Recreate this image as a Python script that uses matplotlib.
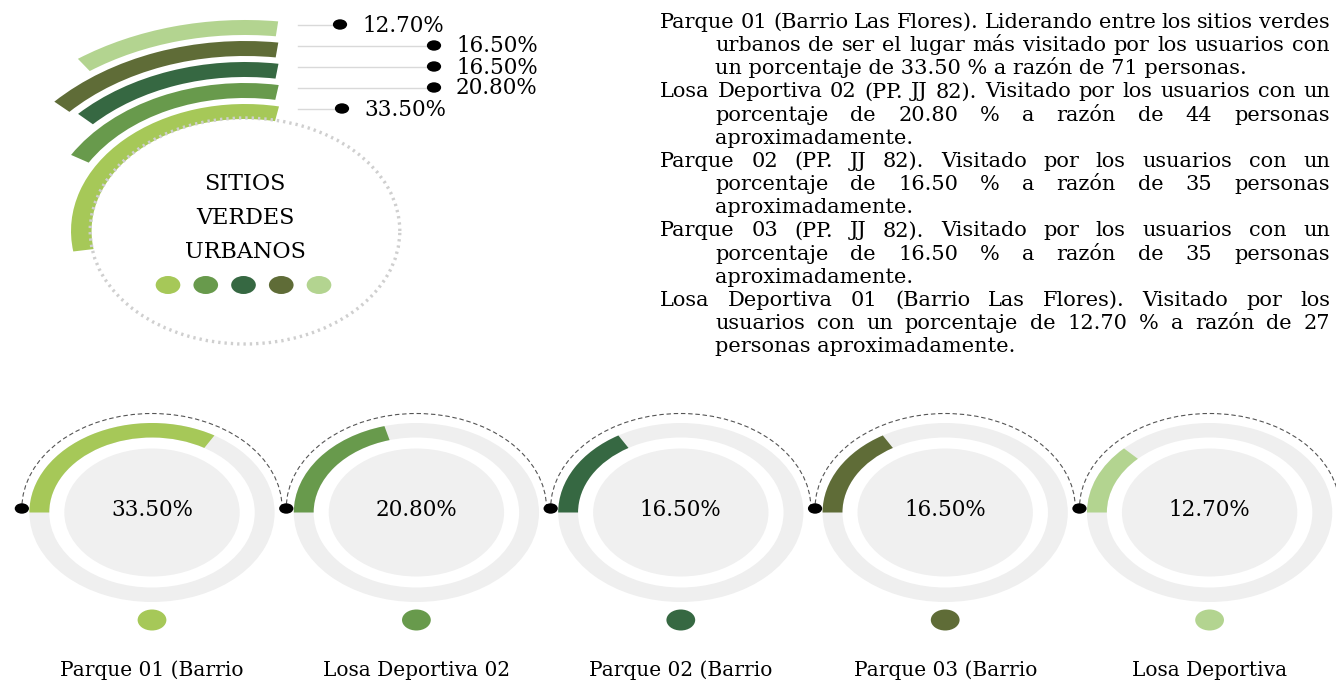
import numpy as np
import matplotlib
matplotlib.use("Agg")
import matplotlib.pyplot as plt
from matplotlib.patches import Wedge, Ellipse, Arc
from matplotlib.transforms import Affine2D

# data
sites = ["Parque 01 (Barrio", "Losa Deportiva 02", "Parque 02 (Barrio",
         "Parque 03 (Barrio", "Losa Deportiva"]
shares = [33.50, 20.80, 16.50, 16.50, 12.70]
colors = ["#a6c858", "#689a4c", "#366842", "#5f6c37", "#b3d490"]
pct_labels = [f"{v:.2f}%" for v in shares]
title_words = ["SITIOS", "VERDES", "URBANOS"]

paragraphs = [
    ["Parque 01 (Barrio Las Flores). Liderando entre los sitios verdes",
     "urbanos de ser el lugar más visitado por los usuarios con",
     "un porcentaje de 33.50 % a razón de 71 personas."],
    ["Losa Deportiva 02 (PP. JJ 82). Visitado por los usuarios con un",
     "porcentaje de 20.80 % a razón de 44 personas",
     "aproximadamente."],
    ["Parque 02 (PP. JJ 82). Visitado por los usuarios con un",
     "porcentaje de 16.50 % a razón de 35 personas",
     "aproximadamente."],
    ["Parque 03 (PP. JJ 82). Visitado por los usuarios con un",
     "porcentaje de 16.50 % a razón de 35 personas",
     "aproximadamente."],
    ["Losa Deportiva 01 (Barrio Las Flores). Visitado por los",
     "usuarios con un porcentaje de 12.70 % a razón de 27",
     "personas aproximadamente."],
]

W, H = 1336, 681
S = 1.37  # the source picture is stretched sideways
SERIF = "DejaVu Serif"
RING_GRAY = "#efefef"

fig = plt.figure(figsize=(W / 100, H / 100), dpi=100)
ax = fig.add_axes([0, 0, 1, 1])
ax.set_xlim(0, W)
ax.set_ylim(H, 0)
ax.axis("off")
ell = Affine2D().scale(S, -1) + ax.transData


def ring(cx, cy, r, t1, t2, width, color, z=1):
    ax.add_patch(Wedge((cx / S, -cy), r, t1, t2, width=width, facecolor=color,
                       edgecolor="none", transform=ell, zorder=z))


def blob(cx, cy, r, color, z=3):
    ax.add_patch(Ellipse((cx / S, -cy), 2 * r, 2 * r, facecolor=color,
                         edgecolor="none", transform=ell, zorder=z))


# ---- top left: stacked arcs
CX, CY = 245, 231
radii = [127, 148, 169, 190, 211]
band = 15
deg_per_pct = 3.3
lead_x = [342, 434, 434, 434, 340]
for v, r, c, dx, lab in zip(shares, radii, colors, lead_x, pct_labels):
    start = np.degrees(np.arccos((277 - CX) / (S * (r - band / 2))))
    ring(CX, CY, r, start, start + v * deg_per_pct, band, c)
    y = CY - r + band / 2 - 3
    ax.plot([298, dx], [y, y], color="#d9d9d9", lw=1, zorder=1)
    blob(dx, y, 5.2, "black")
    ax.text(dx + 22, y + 1, lab, fontsize=15.5, family=SERIF, va="center", ha="left")

ax.add_patch(Arc((CX / S, -CY), 2 * 113, 2 * 113, transform=ell, color="#cfcfcf",
                 lw=2.4, linestyle=(0, (0.7, 1.2)), zorder=1))
for k, word in enumerate(title_words):
    ax.text(CX, 184 + 34 * k, word, fontsize=16, family=SERIF, ha="center", va="center")
for k, c in enumerate(colors):
    blob(168 + 37.75 * k, 285, 9, c)

# ---- right: justified description
renderer = fig.canvas.get_renderer()
FS = 15
RIGHT = 1330
row = 0
for para in paragraphs:
    for j, line in enumerate(para):
        x0 = 660 if j == 0 else 715
        y = 28 + 23.15 * row
        row += 1
        if j == len(para) - 1:
            ax.text(x0, y, line, fontsize=FS, family=SERIF, va="baseline")
            continue
        words = line.split(" ")
        ts = [ax.text(0, y, w, fontsize=FS, family=SERIF, va="baseline") for w in words]
        ws = [t.get_window_extent(renderer).width for t in ts]
        gap = (RIGHT - x0 - sum(ws)) / (len(words) - 1)
        x = x0
        for t, w in zip(ts, ws):
            t.set_x(x)
            x += w + gap

# ---- bottom gauges
GX0, GDX, GY = 152, 264.4, 512.5
for i, (v, c, lab, name) in enumerate(zip(shares, colors, pct_labels, sites)):
    cx = GX0 + i * GDX
    ring(cx, GY, 89.5, 0, 360, 14.5, RING_GRAY, z=1)
    blob(cx, GY, 64, "#f0f0f0", z=1)
    ring(cx, GY, 89.5, 180 - v * 3.6, 180, 14.5, c, z=2)
    ax.add_patch(Arc((cx / S, -508.5), 2 * 95, 2 * 95, theta1=0, theta2=180,
                     transform=ell, color="#555555", lw=0.8,
                     linestyle=(0, (4, 2.5)), zorder=3))
    blob(cx - 95 * S, 508.5, 5.2, "black", z=4)
    ax.text(cx, 510, lab, fontsize=15.5, family=SERIF, ha="center", va="center", zorder=5)
    blob(cx, 620, 10.5, c)
    ax.text(cx, 676, name, fontsize=14.5, family=SERIF, ha="center", va="baseline")

fig.savefig("out.png", dpi=100)
